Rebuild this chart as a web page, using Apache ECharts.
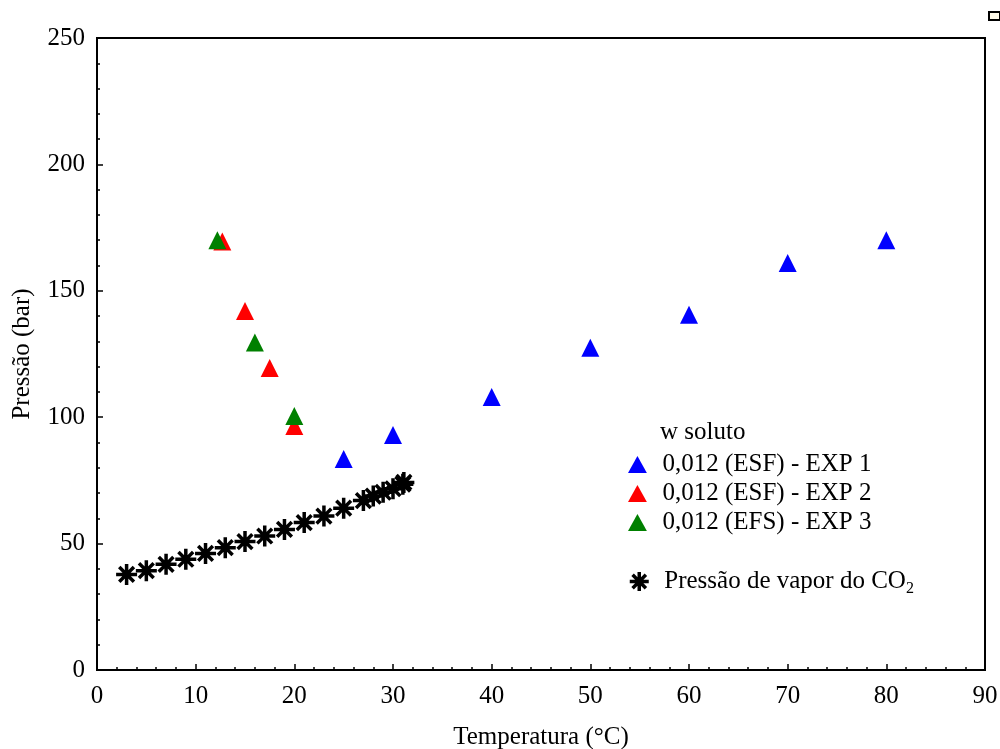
<!DOCTYPE html>
<html lang="pt">
<head>
    <meta charset="UTF-8">
    <script type="text/javascript" src="https://cdn.jsdelivr.net/npm/echarts@6/dist/echarts.min.js"></script>
    <title>Pressão x Temperatura</title>
    <style>
        html, body { margin: 0; padding: 0; background: #fff; }
        #graph { width: 1000px; height: 749px; }
    </style>
</head>
<body>
<div id="graph"></div>
<script type="text/javascript">
    // dados
    var exp1 = [[25, 83.5], [30, 93], [40, 108], [50, 127.5], [60, 140.5], [70, 161], [80, 170]];
    var exp2 = [[12.7, 169.5], [15, 142], [17.5, 119.5], [20, 96.5]];
    var exp3 = [[12.2, 170], [16, 129.5], [20, 100.5]];
    var co2Temp = [3, 5, 7, 9, 11, 13, 15, 17, 19, 21, 23, 25, 27, 28, 29, 30, 31, 31.1];
    var co2Pres = [37.8, 39.3, 41.8, 43.8, 46.1, 48.4, 50.8, 53.0, 55.6, 58.3, 60.9, 64.0, 67.0, 68.8, 70.3, 71.7, 73.5, 74.2];

    var names = ['0,012 (ESF) - EXP 1', '0,012 (ESF) - EXP 2', '0,012 (EFS) - EXP 3', 'Pressão de vapor do CO2'];

    var fonte = 'Liberation Serif';
    var triangulo = 'path://M10,0 L20,18 L0,18 Z';
    var asterisco = 'path://M0,10 L20,10 M10,0 L10,20 M3,3 L17,17 M17,3 L3,17';

    var co2 = co2Temp.map(function (t, i) { return [t, co2Pres[i]]; });

    var chart = echarts.init(document.getElementById('graph'), null, {renderer: 'canvas'});
    chart.setOption({
        backgroundColor: '#fff',
        animation: false,
        textStyle: {fontFamily: fonte, color: '#000'},
        title: {
            text: 'w soluto',
            left: 660,
            top: 420,
            padding: 0,
            textStyle: {fontFamily: fonte, fontSize: 25, fontWeight: 'normal', color: '#000'}
        },
        grid: {
            left: 97, right: 15, top: 38, bottom: 79,
            outerBoundsMode: 'none',
            show: true, borderColor: '#000', borderWidth: 2
        },
        legend: [{
            orient: 'vertical',
            left: 628, top: 452,
            padding: 0,
            itemWidth: 40, itemHeight: 17, itemGap: 4,
            data: names.slice(0, 3),
            textStyle: {fontFamily: fonte, fontSize: 25, color: '#000'}
        }, {
            orient: 'vertical',
            left: 628, top: 569,
            padding: 0,
            itemWidth: 40, itemHeight: 19,
            data: [names[3]],
            itemStyle: {borderColor: '#000', borderWidth: 3.5},
            formatter: function () { return 'Pressão de vapor do CO{sub|2}'; },
            textStyle: {
                fontFamily: fonte, fontSize: 25, color: '#000',
                rich: {sub: {fontFamily: fonte, fontSize: 16, color: '#000', padding: [14, 0, 0, 0]}}
            }
        }],
        xAxis: {
            type: 'value', min: 0, max: 90, interval: 10,
            name: 'Temperatura (°C)', nameLocation: 'middle', nameGap: 55,
            nameTextStyle: {fontFamily: fonte, fontSize: 25, color: '#000'},
            axisLine: {lineStyle: {color: '#000', width: 2}},
            axisTick: {inside: true, length: 6, lineStyle: {color: '#000', width: 1.5}},
            minorTick: {show: true, splitNumber: 5, length: 3, lineStyle: {color: '#000', width: 1.5}},
            axisLabel: {fontFamily: fonte, fontSize: 25, color: '#000', margin: 14},
            splitLine: {show: false}
        },
        yAxis: {
            type: 'value', min: 0, max: 250, interval: 50,
            name: 'Pressão (bar)', nameLocation: 'middle', nameGap: 62,
            nameTextStyle: {fontFamily: fonte, fontSize: 25, color: '#000'},
            axisLine: {show: true, lineStyle: {color: '#000', width: 2}},
            axisTick: {show: true, inside: true, length: 6, lineStyle: {color: '#000', width: 1.5}},
            minorTick: {show: true, splitNumber: 5, length: 3, lineStyle: {color: '#000', width: 1.5}},
            axisLabel: {fontFamily: fonte, fontSize: 25, color: '#000', margin: 12},
            splitLine: {show: false}
        },
        graphic: [{
            type: 'rect', left: 988, top: 11,
            shape: {width: 11, height: 8},
            style: {fill: '#fffbea', stroke: '#000', lineWidth: 2}
        }],
        series: [{
            name: names[0], type: 'scatter', data: exp1,
            symbol: triangulo, symbolSize: 18,
            itemStyle: {color: '#0000ff', opacity: 1}
        }, {
            name: names[1], type: 'scatter', data: exp2,
            symbol: triangulo, symbolSize: 18,
            itemStyle: {color: '#ff0000', opacity: 1}
        }, {
            name: names[2], type: 'scatter', data: exp3,
            symbol: triangulo, symbolSize: 18,
            itemStyle: {color: '#008000', opacity: 1}
        }, {
            name: names[3], type: 'scatter', data: co2,
            symbol: asterisco, symbolSize: 21,
            itemStyle: {color: '#000', borderColor: '#000', borderWidth: 3.5, opacity: 1}
        }]
    });
</script>
</body>
</html>
